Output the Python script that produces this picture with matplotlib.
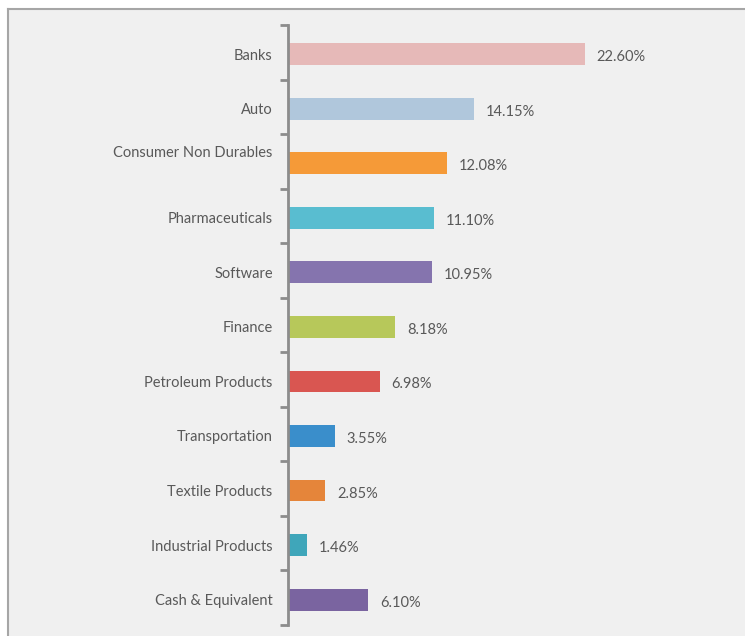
import matplotlib
matplotlib.use("Agg")
import matplotlib.pyplot as plt
from matplotlib.lines import Line2D
from matplotlib.patches import Rectangle
from matplotlib.transforms import ScaledTranslation

plt.rcParams['font.family'] = ['Lato', 'DejaVu Sans']

# sector allocation, top to bottom
sectors = ["Banks", "Auto", "Consumer Non Durables", "Pharmaceuticals", "Software",
           "Finance", "Petroleum Products", "Transportation", "Textile Products",
           "Industrial Products", "Cash & Equivalent"]
weights = [22.60, 14.15, 12.08, 11.10, 10.95, 8.18, 6.98, 3.55, 2.85, 1.46, 6.10]
colors = ["#e6b9b8", "#b0c7dc", "#f59a38", "#59bdd0", "#8574ae", "#b7c85a",
          "#d95651", "#3a8ecb", "#e5853a", "#3fa6ba", "#7a64a0"]

W, H = 745, 636
fig = plt.figure(figsize=(W / 100, H / 100), dpi=100)
fig.patch.set_facecolor("white")

# grey panel with a border on top and left
fig.patches.append(Rectangle((8 / W, 0), 1, 1 - 9 / H, transform=fig.transFigure,
                             facecolor="#f0f0f0", edgecolor="none", zorder=-2))
fig.lines.append(Line2D([8 / W, 1], [1 - 9 / H, 1 - 9 / H], transform=fig.transFigure,
                        color="#a6a6a6", lw=1.5, zorder=-1))
fig.lines.append(Line2D([8 / W, 8 / W], [0, 1 - 9 / H], transform=fig.transFigure,
                        color="#a6a6a6", lw=1.5, zorder=-1))

ax = fig.add_axes([288 / W, 11 / H, 394 / W, 600 / H])
ax.set_facecolor("none")

# bars sit a touch below the middle of each slot
pos = [i + 0.035 for i in range(len(sectors))]
ax.barh(pos, weights, height=0.4, color=colors)
ax.set_xlim(0, 30)
ax.set_ylim(len(sectors) - 0.5, -0.5)

for p, v in zip(pos, weights):
    ax.annotate(f"{v:.2f}%", (v, p), xytext=(12, -3), textcoords="offset pixels",
                va="center", ha="left", fontsize=10.5, color="#595959")

for s in ["top", "right", "bottom"]:
    ax.spines[s].set_visible(False)
ax.spines["left"].set_color("#8c8c8c")
ax.spines["left"].set_linewidth(2)

ax.set_xticks([])
ax.set_yticks(pos)
ax.set_yticklabels(sectors, fontsize=10.5, color="#595959")
ax.set_yticks([i - 0.5 for i in range(len(sectors) + 1)], minor=True)
ax.tick_params(axis="y", which="major", length=0, pad=11)
ax.tick_params(axis="y", which="minor", length=6, width=2, color="#8c8c8c")

# long label sits a bit higher than its bar
lbl = ax.get_yticklabels()[2]
lbl.set_transform(lbl.get_transform() + ScaledTranslation(0, 12 / 100, fig.dpi_scale_trans))

fig.savefig("out.png", dpi=100, facecolor=fig.get_facecolor())
